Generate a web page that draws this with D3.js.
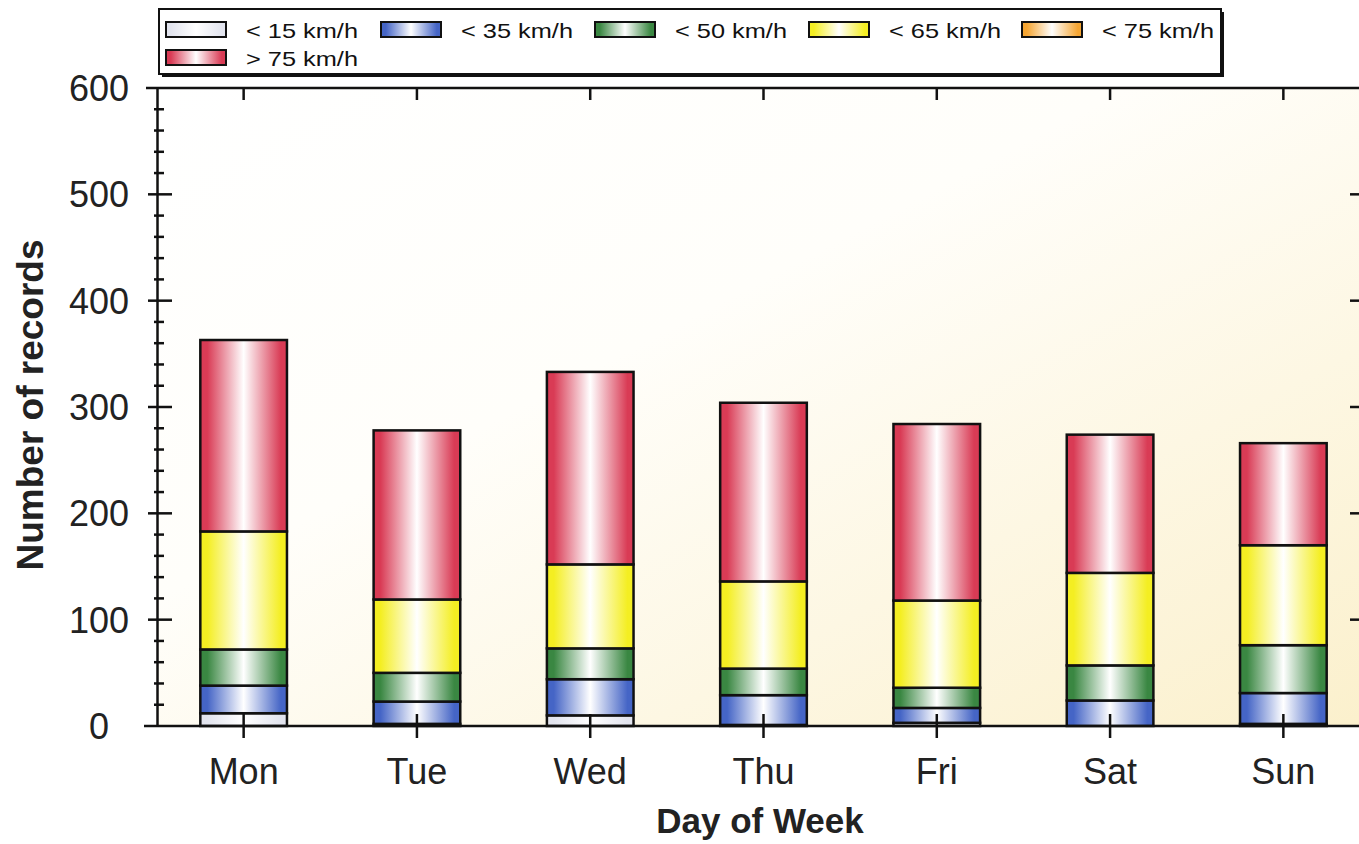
<!DOCTYPE html>
<html>
<head>
<meta charset="utf-8">
<script src="https://cdn.jsdelivr.net/npm/d3@7"></script>
<style>
  html, body { margin: 0; padding: 0; background: #fff; }
  svg { display: block; font-family: "Liberation Sans", Arial, sans-serif; }
</style>
</head>
<body>
<svg id="chart" width="1359" height="844"></svg>
<script>
// Data
const days = ['Mon', 'Tue', 'Wed', 'Thu', 'Fri', 'Sat', 'Sun'];
const speedBands = ['< 15 km/h', '< 35 km/h', '< 50 km/h', '< 65 km/h', '< 75 km/h', '> 75 km/h'];
const under15 = [12, 2, 10, 1, 3, 0, 2];
const under35 = [26, 21, 34, 28, 14, 24, 29];
const under50 = [34, 27, 29, 25, 19, 33, 45];
const under65 = [111, 69, 79, 82, 82, 87, 94];
const under75 = [0, 0, 0, 0, 0, 0, 0];
const over75 = [180, 159, 181, 168, 166, 130, 96];
const yTicks = [0, 100, 200, 300, 400, 500, 600];
const bandColors = ['#e2e4ee', '#4565c6', '#3a8742', '#f4ee22', '#f5a532', '#d93b55'];

const seriesValues = [under15, under35, under50, under65, under75, over75];
const rows = days.map((d, i) => {
  const row = { day: d };
  speedBands.forEach((b, k) => { row[b] = seriesValues[k][i]; });
  return row;
});

const svg = d3.select('#chart');
const plotLeft = 157, plotRight = 1370, plotTop = 88, plotBottom = 726;

const x = d3.scaleBand().domain(days).range([plotLeft, plotRight])
  .paddingInner(0.5).paddingOuter(0.25);
const y = d3.scaleLinear().domain([0, 600]).range([plotBottom, plotTop]);

const defs = svg.append('defs');

// background wash of the plot area
const bg = defs.append('linearGradient').attr('id', 'bgGrad')
  .attr('x1', 0).attr('y1', 0).attr('x2', 1).attr('y2', 1);
bg.append('stop').attr('offset', '0%').attr('stop-color', '#ffffff');
bg.append('stop').attr('offset', '40%').attr('stop-color', '#fffefa');
bg.append('stop').attr('offset', '100%').attr('stop-color', '#fbf0cc');

// one shaded gradient per speed band: colour at the edges, white in the middle
bandColors.forEach((c, k) => {
  const g = defs.append('linearGradient').attr('id', 'band' + k)
    .attr('x1', 0).attr('y1', 0).attr('x2', 1).attr('y2', 0);
  g.append('stop').attr('offset', '0%').attr('stop-color', c);
  g.append('stop').attr('offset', '8%').attr('stop-color', c);
  g.append('stop').attr('offset', '50%').attr('stop-color', '#ffffff');
  g.append('stop').attr('offset', '93%').attr('stop-color', c);
  g.append('stop').attr('offset', '100%').attr('stop-color', c);
});

svg.append('rect')
  .attr('x', plotLeft).attr('y', plotTop)
  .attr('width', plotRight - plotLeft).attr('height', plotBottom - plotTop)
  .attr('fill', 'url(#bgGrad)');

// stacked bars
const stacked = d3.stack().keys(speedBands)(rows);
const layers = svg.append('g').selectAll('g')
  .data(stacked)
  .join('g')
  .attr('fill', (d, k) => `url(#band${k})`);

layers.selectAll('rect')
  .data(d => d.filter(p => p[1] - p[0] > 0))
  .join('rect')
  .attr('x', d => x(d.data.day))
  .attr('width', x.bandwidth())
  .attr('y', d => y(d[1]))
  .attr('height', d => y(d[0]) - y(d[1]))
  .attr('stroke', '#111')
  .attr('stroke-width', 2.5);

// frame lines
svg.append('line').attr('x1', 146).attr('x2', 1359).attr('y1', plotTop).attr('y2', plotTop)
  .attr('stroke', '#111').attr('stroke-width', 2.5);
svg.append('line').attr('x1', 144).attr('x2', 1359).attr('y1', plotBottom).attr('y2', plotBottom)
  .attr('stroke', '#111').attr('stroke-width', 2.5);

// left axis with major / minor ticks
const yAxis = d3.axisLeft(y).tickValues(yTicks).tickSize(0).tickFormat('');
svg.append('g').attr('transform', `translate(${plotLeft},0)`).call(yAxis)
  .call(g => g.select('.domain').attr('stroke', '#111').attr('stroke-width', 2.5));

const minorVals = d3.range(0, 601, 20).filter(v => v % 100 !== 0);
svg.append('g').selectAll('line').data(minorVals).join('line')
  .attr('x1', plotLeft - 3).attr('x2', plotLeft + 7)
  .attr('y1', d => y(d)).attr('y2', d => y(d))
  .attr('stroke', '#111').attr('stroke-width', 2.5);
svg.append('g').selectAll('line').data(yTicks.filter(v => v > 0 && v < 600)).join('line')
  .attr('x1', plotLeft - 9).attr('x2', plotLeft + 15)
  .attr('y1', d => y(d)).attr('y2', d => y(d))
  .attr('stroke', '#111').attr('stroke-width', 2.5);

svg.append('g').selectAll('text').data(yTicks).join('text')
  .attr('x', 99).attr('y', d => y(d))
  .attr('dy', '0.36em')
  .attr('text-anchor', 'middle')
  .attr('font-size', 36)
  .attr('fill', '#222')
  .text(d => d);

// right-hand ticks (axis itself is cut off by the scan)
svg.append('g').selectAll('line').data(yTicks.filter(v => v > 0 && v < 600)).join('line')
  .attr('x1', 1350).attr('x2', 1359)
  .attr('y1', d => y(d)).attr('y2', d => y(d))
  .attr('stroke', '#111').attr('stroke-width', 2.5);

// category ticks on bottom and top
const cx = d => x(d) + x.bandwidth() / 2;
svg.append('g').selectAll('line').data(days).join('line')
  .attr('x1', cx).attr('x2', cx)
  .attr('y1', plotBottom - 12).attr('y2', plotBottom + 12)
  .attr('stroke', '#111').attr('stroke-width', 2.5);
svg.append('g').selectAll('line').data(days).join('line')
  .attr('x1', cx).attr('x2', cx)
  .attr('y1', plotTop).attr('y2', plotTop + 12)
  .attr('stroke', '#111').attr('stroke-width', 2.5);

svg.append('g').selectAll('text').data(days).join('text')
  .attr('x', cx).attr('y', 784)
  .attr('text-anchor', 'middle')
  .attr('font-size', 36)
  .attr('fill', '#222')
  .text(d => d);

// axis titles
svg.append('text')
  .attr('x', 760).attr('y', 833)
  .attr('text-anchor', 'middle')
  .attr('font-size', 35).attr('font-weight', 'bold')
  .attr('fill', '#222')
  .text('Day of Week');

svg.append('text')
  .attr('transform', 'translate(43,405) rotate(-90)')
  .attr('text-anchor', 'middle')
  .attr('font-size', 37).attr('font-weight', 'bold')
  .attr('fill', '#222')
  .text('Number of records');

// legend
const legend = svg.append('g');
legend.append('rect').attr('x', 162).attr('y', 12).attr('width', 1062).attr('height', 65)
  .attr('fill', '#111');
legend.append('rect').attr('x', 159).attr('y', 9).attr('width', 1062).attr('height', 65)
  .attr('fill', '#fff').attr('stroke', '#111').attr('stroke-width', 2);

const legendPos = [
  [166, 22], [381, 22], [595, 22], [809, 22], [1022, 22],
  [166, 50]
];
speedBands.forEach((b, k) => {
  const [lx, ly] = legendPos[k];
  legend.append('rect')
    .attr('x', lx).attr('y', ly).attr('width', 60).attr('height', 15)
    .attr('fill', `url(#band${k})`)
    .attr('stroke', '#111').attr('stroke-width', 2);
  legend.append('text')
    .attr('x', lx + 80).attr('y', ly + 8)
    .attr('dy', '0.36em')
    .attr('font-size', 21)
    .attr('textLength', 112)
    .attr('lengthAdjust', 'spacingAndGlyphs')
    .attr('fill', '#111')
    .text(b);
});
</script>
</body>
</html>
